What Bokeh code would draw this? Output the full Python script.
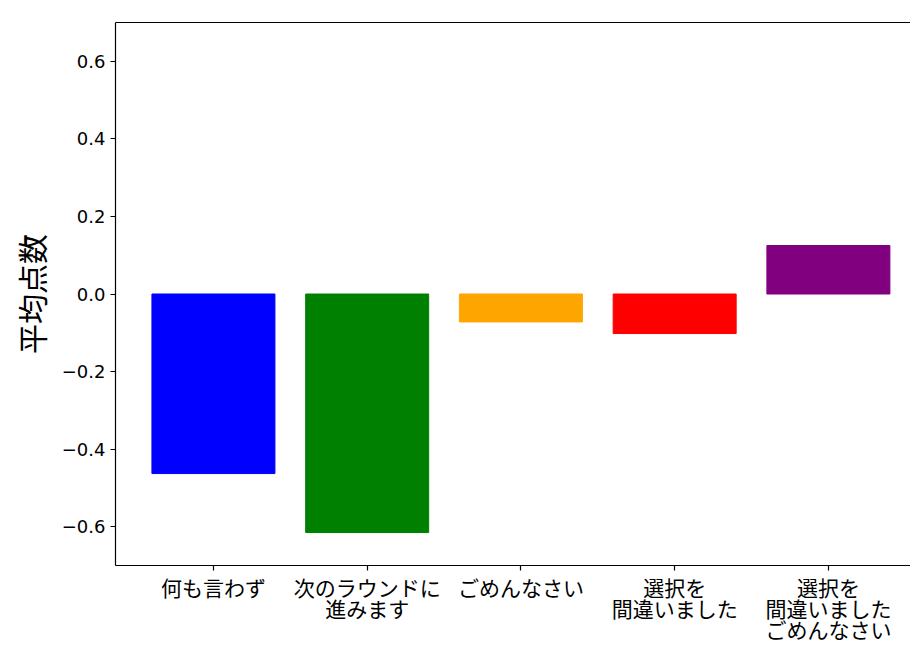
from bokeh.plotting import figure
from bokeh.models import FixedTicker, LinearAxis, Range1d, CustomJSTickFormatter, ColumnDataSource
from bokeh.embed import file_html
from bokeh.resources import INLINE

categories = ["何も言わず", "次のラウンドに\n進みます", "ごめんなさい", "選択を\n間違いました", "選択を\n間違いました\nごめんなさい"]
values = [-0.463, -0.615, -0.072, -0.102, 0.125]
colors = ["blue", "green", "orange", "red", "purple"]
y_ticks = [-0.6, -0.4, -0.2, 0.0, 0.2, 0.4, 0.6]
y_label = "平均点数"

xs = list(range(len(categories)))
src = ColumnDataSource(dict(x=xs, top=values, color=colors))

p = figure(width=910, height=646, output_backend="svg", toolbar_location=None,
           x_range=Range1d(-0.637, 4.534), y_range=Range1d(-0.7, 0.7),
           min_border_left=115, min_border_right=0, min_border_top=22, min_border_bottom=78)
p.vbar(x="x", top="top", bottom=0, width=0.8, color="color", source=src)

p.grid.visible = False
p.outline_line_color = None
p.background_fill_color = "white"
p.border_fill_color = "white"

# x axis
xa = p.xaxis[0]
xa.ticker = FixedTicker(ticks=xs)
xa.major_label_overrides = {i: c for i, c in zip(xs, categories)}
xa.major_label_text_font = "Noto Sans CJK JP"
xa.major_label_text_font_size = "21px"
xa.major_label_text_line_height = 0.7
xa.major_label_text_color = "black"
xa.major_label_standoff = 1
xa.minor_tick_line_color = None
xa.major_tick_in = 0
xa.major_tick_out = 5
xa.axis_line_color = "black"
xa.axis_line_width = 1.2
xa.major_tick_line_color = "black"
xa.major_tick_line_width = 1.2

# y axis
ya = p.yaxis[0]
ya.ticker = FixedTicker(ticks=y_ticks)
ya.formatter = CustomJSTickFormatter(code="var s = Math.abs(tick).toFixed(1); return (tick < -1e-9 ? '\u2212' : '') + s;")
ya.major_label_text_font = "DejaVu Sans"
ya.major_label_text_font_size = "18px"
ya.major_label_text_color = "black"
ya.major_label_standoff = 5
ya.minor_tick_line_color = None
ya.major_tick_in = 0
ya.major_tick_out = 5
ya.axis_line_color = "black"
ya.axis_line_width = 1.2
ya.major_tick_line_color = "black"
ya.major_tick_line_width = 1.2
ya.axis_label = y_label
ya.axis_label_text_font = "Noto Sans CJK JP"
ya.axis_label_text_font_size = "30px"
ya.axis_label_text_font_style = "normal"
ya.axis_label_text_color = "black"
ya.axis_label_standoff = 6

# top spine
top = LinearAxis(ticker=FixedTicker(ticks=[]), major_label_text_font_size="0px",
                 major_tick_line_color=None, minor_tick_line_color=None,
                 axis_line_color="black", axis_line_width=1.2)
p.add_layout(top, "above")

open("out.html", "w").write(file_html(p, INLINE))
